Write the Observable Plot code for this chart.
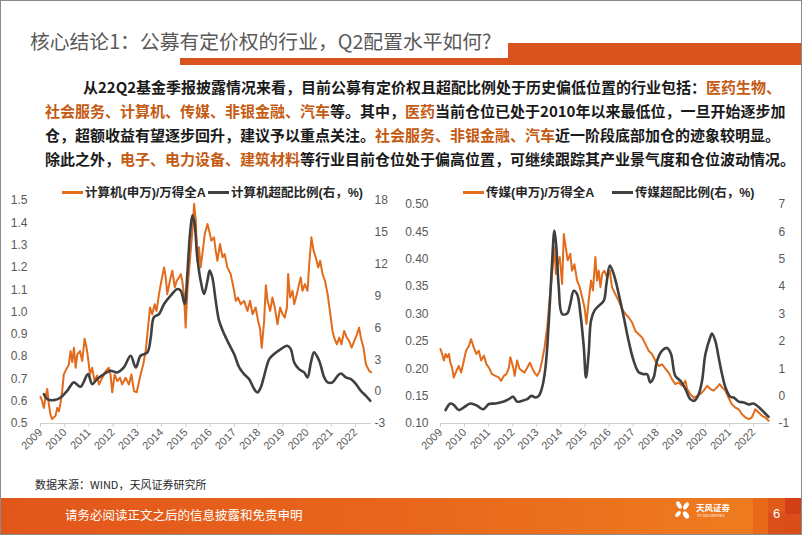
<!DOCTYPE html>
<html><head><meta charset="utf-8">
<script src="https://cdn.jsdelivr.net/npm/d3@7"></script>
<script src="https://cdn.jsdelivr.net/npm/@observablehq/plot@0.6"></script>
<style>
html,body{margin:0;padding:0;background:#fff;}
#slide{position:relative;width:802px;height:535px;overflow:hidden;font-family:"Noto Sans CJK SC","Noto Sans",sans-serif;background:#fff;}
.abs{position:absolute;}
#border{left:0;top:0;width:802px;height:535px;box-sizing:border-box;border:1px solid #8a8a8a;}
#title{left:30px;top:28px;font-size:19.8px;line-height:26px;color:#595959;white-space:nowrap;}
.bar{background:#D9531E;}
.ln{position:absolute;left:45px;font-size:15px;line-height:24px;font-weight:bold;color:#1a1a1a;white-space:nowrap;}
.hl{color:#C55A11;}
.legend{position:absolute;font-family:"Liberation Sans","Noto Sans CJK SC",sans-serif;font-size:12.5px;font-weight:bold;color:#262626;white-space:nowrap;line-height:16px;}
.sw{display:inline-block;width:21px;height:2.5px;vertical-align:middle;margin-right:2px;position:relative;top:-1px;}
#source{left:35px;top:476px;font-size:11px;color:#262626;white-space:nowrap;}
#footer{left:0;top:498px;width:802px;height:37px;background:linear-gradient(90deg,#E2561B 0%,#E8661C 50%,#EE7A1F 90%);}
#ftext{left:65px;top:506px;font-size:12.5px;line-height:18px;color:#fff;white-space:nowrap;}
.chart{position:absolute;top:180px;}
</style></head>
<body><div id="slide">
<div class="abs" id="title">核心结论1：公募有定价权的行业，Q2配置水平如何?</div>
<div class="abs bar" style="left:180px;top:58px;width:328px;height:7px;"></div>
<div class="abs bar" style="left:508px;top:43px;width:294px;height:22px;"></div>

<div class="ln" style="top:75px;left:83px;">从22Q2基金季报披露情况来看，目前公募有定价权且超配比例处于历史偏低位置的行业包括：<span class="hl">医药生物、</span></div>
<div class="ln" style="top:99px;"><span class="hl">社会服务、计算机、传媒、非银金融、汽车</span>等。其中，<span class="hl">医药</span>当前仓位已处于2010年以来最低位，一旦开始逐步加</div>
<div class="ln" style="top:123px;">仓，超额收益有望逐步回升，建议予以重点关注。<span class="hl">社会服务、非银金融、汽车</span>近一阶段底部加仓的迹象较明显。</div>
<div class="ln" style="top:147px;">除此之外，<span class="hl">电子、电力设备、建筑材料</span>等行业目前仓位处于偏高位置，可继续跟踪其产业景气度和仓位波动情况。</div>

<div class="chart" id="c1" style="left:0px;"></div>
<div class="chart" id="c2" style="left:400px;"></div>

<div class="legend" style="left:62px;top:185px;"><span class="sw" style="background:#E26B1C"></span>计算机(申万)/万得全A</div>
<div class="legend" style="left:208px;top:185px;"><span class="sw" style="background:#404040;height:3px"></span>计算机超配比例(右，%)</div>
<div class="legend" style="left:463px;top:185px;"><span class="sw" style="background:#E26B1C"></span>传媒(申万)/万得全A</div>
<div class="legend" style="left:612px;top:185px;"><span class="sw" style="background:#404040;height:3px"></span>传媒超配比例(右，%)</div>

<div class="abs" id="source">数据来源：WIND，天风证券研究所</div>

<div class="abs" id="footer"></div>
<div class="abs" style="left:753px;top:498px;width:15px;height:37px;background:#E8661A;opacity:0.9"></div>
<div class="abs" style="left:768px;top:498px;width:17px;height:15px;background:#E05A1A;"></div>
<div class="abs" style="left:768px;top:513px;width:17px;height:22px;background:#D9501A;"></div>
<div class="abs" style="left:785px;top:498px;width:17px;height:16px;background:#D23F16;"></div>
<div class="abs" style="left:785px;top:514px;width:17px;height:21px;background:#DA4C18;"></div>
<div class="abs" id="ftext">请务必阅读正文之后的信息披露和免责申明</div>
<svg class="abs" style="left:674px;top:500px;" width="18" height="22" viewBox="0 0 18 22">
  <ellipse cx="5" cy="5" rx="2.2" ry="4" fill="#fff" transform="rotate(-30 5 5)"/>
  <ellipse cx="12" cy="6" rx="2.2" ry="4" fill="#fff" transform="rotate(35 12 6)"/>
  <ellipse cx="4" cy="14" rx="2" ry="3.5" fill="#fff" transform="rotate(40 4 14)"/>
  <ellipse cx="12" cy="15" rx="2.4" ry="4" fill="#fff" transform="rotate(-35 12 15)"/>
</svg>
<div class="abs" style="left:696px;top:502px;font-size:8.5px;line-height:10px;color:#fff;font-weight:bold;white-space:nowrap;">天风证券</div>
<div class="abs" style="left:697px;top:513px;font-size:4px;line-height:5px;color:#fff;white-space:nowrap;">TF SECURITIES</div>
<div class="abs" style="left:773px;top:506px;font-size:13px;line-height:16px;color:#fff;font-family:'Liberation Sans',sans-serif;">6</div>

<div class="abs" id="border"></div>
</div>
<script>
// ---- year ticks ----
const yearTicks = [2009,2010,2011,2012,2013,2014,2015,2016,2017,2018,2019,2020,2021,2022];

// ---- Chart 1: 计算机 ----
const compTicksLeft = [0.5,0.6,0.7,0.8,0.9,1.0,1.1,1.2,1.3,1.4,1.5];
const compTicksRight = [-3,0,3,6,9,12,15,18];
const compRatioT = [2009.00,2009.07,2009.14,2009.21,2009.28,2009.34,2009.41,2009.48,2009.62,2009.69,2009.76,2009.83,2009.90,2009.96,2010.03,2010.17,2010.24,2010.31,2010.38,2010.45,2010.52,2010.63,2010.72,2010.82,2010.90,2010.96,2011.04,2011.13,2011.23,2011.34,2011.41,2011.55,2011.69,2011.82,2011.89,2011.96,2012.06,2012.17,2012.28,2012.37,2012.51,2012.65,2012.75,2012.86,2012.97,2013.06,2013.13,2013.24,2013.34,2013.41,2013.52,2013.61,2013.71,2013.79,2013.89,2013.99,2014.10,2014.17,2014.23,2014.34,2014.44,2014.54,2014.62,2014.72,2014.79,2014.85,2014.92,2014.99,2015.06,2015.13,2015.20,2015.27,2015.34,2015.41,2015.47,2015.54,2015.61,2015.68,2015.78,2015.89,2015.96,2016.05,2016.16,2016.23,2016.30,2016.41,2016.51,2016.60,2016.71,2016.85,2016.99,2017.06,2017.15,2017.26,2017.40,2017.54,2017.65,2017.75,2017.88,2017.98,2018.06,2018.13,2018.23,2018.30,2018.37,2018.48,2018.57,2018.67,2018.78,2018.89,2018.99,2019.08,2019.17,2019.22,2019.30,2019.40,2019.47,2019.58,2019.67,2019.74,2019.81,2019.91,2020.02,2020.09,2020.18,2020.27,2020.36,2020.46,2020.54,2020.64,2020.74,2020.85,2020.96,2021.05,2021.12,2021.23,2021.33,2021.42,2021.53,2021.64,2021.74,2021.84,2021.95,2022.06,2022.15,2022.22,2022.33,2022.43,2022.50,2022.57,2022.64];
const compRatioV = [0.62,0.60,0.57,0.62,0.655,0.59,0.54,0.52,0.535,0.57,0.555,0.595,0.65,0.72,0.735,0.765,0.825,0.775,0.84,0.75,0.81,0.825,0.78,0.88,0.84,0.795,0.72,0.75,0.69,0.715,0.675,0.705,0.735,0.75,0.72,0.64,0.72,0.69,0.705,0.675,0.705,0.675,0.72,0.645,0.64,0.685,0.72,0.765,0.825,0.90,1.02,0.99,1.035,1.005,1.08,1.14,1.20,1.155,1.08,1.14,1.185,1.11,1.14,1.155,1.17,1.14,1.08,0.93,1.095,1.185,1.275,1.365,1.485,1.41,1.23,1.29,1.20,1.26,1.35,1.395,1.365,1.32,1.335,1.275,1.23,1.305,1.245,1.26,1.20,1.17,1.095,1.05,1.065,1.035,1.05,1.005,1.05,0.99,1.02,0.96,0.925,0.84,0.96,1.12,1.05,1.005,1.065,1.02,0.945,1.02,0.99,0.975,1.02,1.17,1.065,1.095,1.035,1.08,1.125,1.155,1.095,1.125,1.095,1.215,1.335,1.275,1.245,1.20,1.23,1.17,1.14,1.08,0.99,0.915,0.885,0.855,0.885,0.855,0.915,0.885,0.87,0.84,0.87,0.90,0.93,0.885,0.84,0.765,0.75,0.735,0.73];
const compOverT = [2009.14,2009.28,2009.55,2009.83,2010.10,2010.38,2010.65,2010.96,2011.13,2011.34,2011.62,2011.89,2012.17,2012.44,2012.72,2012.93,2013.13,2013.41,2013.55,2013.68,2013.89,2014.10,2014.37,2014.65,2014.79,2014.95,2015.06,2015.17,2015.27,2015.36,2015.47,2015.61,2015.75,2015.89,2015.98,2016.09,2016.23,2016.37,2016.58,2016.78,2016.99,2017.20,2017.40,2017.61,2017.82,2017.95,2018.09,2018.23,2018.44,2018.64,2018.92,2019.19,2019.33,2019.47,2019.67,2019.88,2020.02,2020.16,2020.29,2020.50,2020.71,2020.85,2021.05,2021.26,2021.40,2021.60,2021.81,2022.02,2022.22,2022.43,2022.61];
const compOverV = [-0.24,-0.7,-0.8,-0.55,0.08,0.87,0.46,1.65,0.71,1.18,1.65,1.97,1.81,2.28,3.38,2.28,3.38,3.70,5.10,7.00,7.30,8.25,9.04,9.67,9.50,8.25,11.1,14.86,16.6,15.8,12.65,10.45,9.2,10.45,11.4,10.77,8.57,6.68,5.42,4.48,3.54,2.28,1.65,1.18,0.24,-0.08,0.39,1.49,3.07,3.54,4.01,4.32,4.01,2.75,2.12,1.81,1.34,2.75,3.70,2.91,1.34,0.87,0.87,1.49,1.71,1.34,1.18,0.71,0.08,-0.39,-0.86];

// ---- Chart 2: 传媒 ----
const mediaTicksLeft = [0.10,0.15,0.20,0.25,0.30,0.35,0.40,0.45,0.50];
const mediaTicksRight = [-1,0,1,2,3,4,5,6,7];
const mediaRatioT = [2009.00,2009.07,2009.14,2009.21,2009.28,2009.35,2009.41,2009.48,2009.55,2009.66,2009.76,2009.86,2009.97,2010.06,2010.18,2010.27,2010.38,2010.49,2010.59,2010.69,2010.80,2010.91,2011.01,2011.14,2011.28,2011.42,2011.52,2011.63,2011.74,2011.84,2011.90,2012.02,2012.08,2012.18,2012.28,2012.39,2012.49,2012.60,2012.71,2012.80,2012.90,2013.01,2013.12,2013.22,2013.32,2013.43,2013.54,2013.63,2013.73,2013.79,2013.84,2013.95,2014.05,2014.12,2014.20,2014.28,2014.39,2014.46,2014.56,2014.67,2014.78,2014.88,2014.98,2015.06,2015.15,2015.25,2015.33,2015.43,2015.50,2015.57,2015.64,2015.71,2015.80,2015.92,2016.03,2016.12,2016.26,2016.40,2016.54,2016.68,2016.81,2016.95,2017.09,2017.23,2017.37,2017.51,2017.64,2017.78,2017.92,2018.06,2018.20,2018.34,2018.47,2018.61,2018.75,2018.89,2019.03,2019.17,2019.24,2019.37,2019.51,2019.65,2019.79,2019.93,2020.07,2020.20,2020.34,2020.48,2020.59,2020.69,2020.83,2020.96,2021.10,2021.24,2021.38,2021.52,2021.66,2021.79,2021.93,2022.07,2022.21,2022.35,2022.49,2022.62];
const mediaRatioV = [0.236,0.227,0.215,0.227,0.221,0.227,0.211,0.202,0.184,0.196,0.205,0.193,0.215,0.233,0.242,0.254,0.239,0.227,0.233,0.215,0.224,0.208,0.202,0.190,0.187,0.184,0.178,0.187,0.190,0.202,0.221,0.202,0.187,0.215,0.200,0.196,0.193,0.202,0.211,0.202,0.193,0.187,0.196,0.215,0.239,0.276,0.331,0.373,0.422,0.373,0.385,0.404,0.355,0.446,0.422,0.398,0.410,0.379,0.391,0.361,0.349,0.331,0.312,0.282,0.324,0.361,0.343,0.404,0.361,0.379,0.349,0.373,0.379,0.367,0.379,0.349,0.336,0.324,0.309,0.300,0.294,0.285,0.269,0.263,0.257,0.245,0.233,0.227,0.215,0.205,0.208,0.200,0.193,0.181,0.172,0.175,0.169,0.178,0.163,0.154,0.147,0.150,0.154,0.160,0.169,0.163,0.160,0.166,0.172,0.166,0.160,0.147,0.135,0.129,0.126,0.117,0.111,0.108,0.111,0.126,0.120,0.114,0.111,0.105];
const mediaOverT = [2009.21,2009.41,2009.55,2009.76,2009.97,2010.24,2010.52,2010.77,2011.01,2011.28,2011.63,2011.84,2012.02,2012.18,2012.39,2012.60,2012.78,2012.94,2013.08,2013.22,2013.36,2013.50,2013.63,2013.73,2013.81,2013.91,2014.05,2014.26,2014.39,2014.53,2014.67,2014.81,2014.95,2015.04,2015.15,2015.25,2015.39,2015.57,2015.78,2015.89,2016.03,2016.19,2016.40,2016.61,2016.81,2017.02,2017.23,2017.44,2017.58,2017.71,2017.85,2017.99,2018.20,2018.41,2018.57,2018.75,2018.96,2019.17,2019.37,2019.54,2019.72,2019.86,2020.00,2020.20,2020.27,2020.41,2020.55,2020.69,2020.83,2021.03,2021.17,2021.38,2021.59,2021.79,2022.00,2022.21,2022.42,2022.62];
const mediaOverV = [-0.51,-0.27,-0.32,-0.51,-0.41,-0.27,-0.35,-0.48,-0.29,-0.27,-0.20,-0.11,-0.02,-0.20,-0.17,-0.11,0.01,-0.05,0.01,0.32,1.05,2.76,4.83,6.05,5.44,3.98,3.00,3.02,3.37,3.85,3.73,3.00,1.78,0.68,1.54,2.76,3.12,3.30,3.49,4.10,4.77,4.46,3.73,2.88,2.02,1.29,0.87,0.80,0.80,0.50,0.68,1.29,1.66,1.76,1.54,0.74,0.56,0.26,-0.11,-0.17,0.07,0.56,1.54,2.15,2.29,2.02,1.41,0.80,0.32,-0.02,-0.05,-0.20,-0.23,-0.30,-0.27,-0.40,-0.58,-0.76];

function dualChart(o) {
  const [y0, y1] = o.yDomain, [r0, r1] = o.rDomain;
  const toLeft = r => y0 + (r - r0) / (r1 - r0) * (y1 - y0);
  const fromLeft = y => r0 + (y - y0) / (y1 - y0) * (r1 - r0);
  const d1 = o.t1.map((t, i) => ({t, v: o.v1[i]}));
  const d2 = o.t2.map((t, i) => ({t, v: toLeft(o.r2[i])}));
  return Plot.plot({
    width: 400, height: 275,
    marginTop: o.marginTop, marginBottom: o.marginBottom, marginLeft: 40, marginRight: o.marginRight,
    x: {domain: [2009, 2022.66]},
    y: {domain: o.yDomain},
    style: {fontFamily: "'Liberation Sans', Arial, sans-serif", fontSize: "12px", color: "#595959", background: "transparent", overflow: "visible"},
    marks: [
      Plot.ruleY([y0], {stroke: "#d0d0d0", strokeWidth: 1}),
      Plot.axisX({ticks: yearTicks, tickFormat: d => String(d), tickRotate: -45, tickSize: 4, tickPadding: 3, stroke: "#d0d0d0", fill: "#595959", fontSize: 11, label: null}),
      Plot.axisY({ticks: o.yTicks, tickFormat: o.yFmt, tickSize: 0, tickPadding: o.padL, label: null, fill: "#595959"}),
      Plot.axisY({anchor: "right", ticks: o.rTicks.map(toLeft), tickFormat: d => String(Math.round(fromLeft(d))), tickSize: 0, tickPadding: o.padR, label: null, fill: "#595959", textAnchor: "start"}),
      Plot.line(d1, {x: "t", y: "v", stroke: "#E26B1C", strokeWidth: 2}),
      Plot.line(d2, {x: "t", y: "v", stroke: "#404040", strokeWidth: 2.6, curve: "catmull-rom"})
    ]
  });
}

document.getElementById("c1").appendChild(dualChart({
  t1: compRatioT, v1: compRatioV, t2: compOverT, r2: compOverV,
  yDomain: [0.5, 1.5], rDomain: [-3, 18], yTicks: compTicksLeft, rTicks: compTicksRight,
  yFmt: d => d.toFixed(1), marginTop: 20, marginBottom: 32, marginRight: 29, padL: 13, padR: 3
}));
document.getElementById("c2").appendChild(dualChart({
  t1: mediaRatioT, v1: mediaRatioV, t2: mediaOverT, r2: mediaOverV,
  yDomain: [0.1, 0.5], rDomain: [-1, 7], yTicks: mediaTicksLeft, rTicks: mediaTicksRight,
  yFmt: d => d.toFixed(2), marginTop: 24, marginBottom: 32, marginRight: 31, padL: 12, padR: 9
}));
</script>
</body></html>
